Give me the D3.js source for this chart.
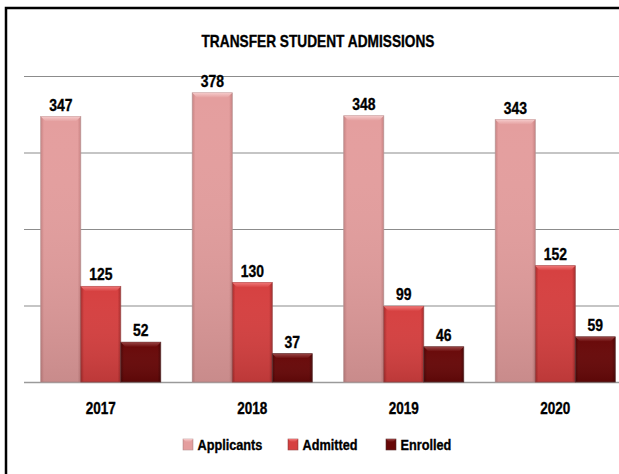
<!DOCTYPE html>
<html>
<head>
<meta charset="utf-8">
<script src="https://cdn.jsdelivr.net/npm/d3@7"></script>
<style>
  html, body { margin: 0; padding: 0; background: #fff; overflow: hidden; }
  svg { display: block; overflow: hidden; }
  text { font-family: "Liberation Sans", Arial, sans-serif; font-weight: bold; fill: #000; stroke: #000; stroke-width: 0.35px; }
</style>
</head>
<body>
<svg id="chart" width="619" height="474"></svg>
<script>
// ---- data ----
const years = ["2017", "2018", "2019", "2020"];
const seriesNames = ["Applicants", "Admitted", "Enrolled"];
const applicants = [347, 378, 348, 343];
const admitted = [125, 130, 99, 152];
const enrolled = [52, 37, 46, 59];
const yTicks = [0, 100, 200, 300, 400];
const chartTitle = "TRANSFER STUDENT ADMISSIONS";

const seriesValues = [applicants, admitted, enrolled];
const colors = {
  Applicants: { base: "#e49e9e", light: "#f5caca", dark: "#c98282", edge: "#b89494" },
  Admitted:   { base: "#d64040", light: "#f07878", dark: "#a82a2a", edge: "#9a4a4a" },
  Enrolled:   { base: "#680808", light: "#984444", dark: "#4a0303", edge: "#5a3030" }
};
const NARROW = 0.82; // horizontal squeeze to mimic a narrow face

const W = 619, H = 474;
const svg = d3.select("#chart");

// border (top and left edges visible in the crop)
svg.append("path")
  .attr("d", `M6,${H + 5}L6,8L${W + 5},8`)
  .attr("fill", "none").attr("stroke", "#000").attr("stroke-width", 2.5);

// scales
const x0 = d3.scaleBand().domain(years).range([25, 631])
  .paddingInner(0.208).paddingOuter(0.104);
const x1 = d3.scaleBand().domain(seriesNames).range([0, x0.bandwidth()]).padding(0);
const y = d3.scaleLinear().domain([0, 400]).range([382, 76]);

// gradients
const defs = svg.append("defs");
seriesNames.forEach((s, i) => {
  const c = colors[s];
  const gh = defs.append("linearGradient").attr("id", "gh" + i)
    .attr("x1", "0").attr("x2", "1").attr("y1", "0").attr("y2", "0");
  gh.append("stop").attr("offset", "0").attr("stop-color", c.dark);
  gh.append("stop").attr("offset", "0.08").attr("stop-color", c.base);
  gh.append("stop").attr("offset", "0.92").attr("stop-color", c.base);
  gh.append("stop").attr("offset", "1").attr("stop-color", c.dark);
  const gv = defs.append("linearGradient").attr("id", "gv" + i)
    .attr("x1", "0").attr("x2", "0").attr("y1", "0").attr("y2", "1");
  gv.append("stop").attr("offset", "0").attr("stop-color", "#fff").attr("stop-opacity", 0.0);
  gv.append("stop").attr("offset", "1").attr("stop-color", "#000").attr("stop-opacity", 0.12);
  const gt = defs.append("linearGradient").attr("id", "gt" + i)
    .attr("x1", "0").attr("x2", "0").attr("y1", "0").attr("y2", "1");
  gt.append("stop").attr("offset", "0").attr("stop-color", c.light);
  gt.append("stop").attr("offset", "1").attr("stop-color", c.base);
});

// gridlines
const grid = svg.append("g").attr("class", "grid")
  .attr("transform", "translate(24,0)")
  .call(d3.axisLeft(y).tickValues(yTicks).tickSize(-(W + 20)).tickFormat(""));
grid.select(".domain").remove();
grid.selectAll(".tick line")
  .attr("stroke", (d) => d === 0 ? "#9a9a9a" : "#8c8c8c")
  .attr("stroke-width", (d) => d === 0 ? 1.6 : 1.1);

// bars
const rows = years.map((yr, i) => ({ year: yr, vals: seriesNames.map((s, j) => ({ s, j, v: seriesValues[j][i] })) }));
const groups = svg.append("g").selectAll("g").data(rows).join("g")
  .attr("transform", d => `translate(${x0(d.year)},0)`);

const bars = groups.selectAll("g.bar").data(d => d.vals).join("g").attr("class", "bar");
bars.append("rect")
  .attr("x", d => x1(d.s)).attr("y", d => y(d.v))
  .attr("width", x1.bandwidth()).attr("height", d => y(0) - y(d.v))
  .attr("fill", d => `url(#gh${d.j})`)
  .attr("stroke", d => colors[d.s].edge).attr("stroke-width", 0.8);
bars.append("rect")
  .attr("x", d => x1(d.s)).attr("y", d => y(d.v))
  .attr("width", x1.bandwidth()).attr("height", d => y(0) - y(d.v))
  .attr("fill", d => `url(#gv${d.j})`);
// top bevel
bars.append("path")
  .attr("d", d => {
    const xl = x1(d.s), xr = xl + x1.bandwidth(), yt = y(d.v), b = 5;
    return `M${xl},${yt}L${xr},${yt}L${xr - b},${yt + b}L${xl + b},${yt + b}Z`;
  })
  .attr("fill", d => `url(#gt${d.j})`);

// value labels
bars.append("text")
  .attr("transform", d => `translate(${x1(d.s) + x1.bandwidth() / 2},${y(d.v) - 6}) scale(${NARROW},1)`)
  .attr("text-anchor", "middle")
  .style("font-size", "17px")
  .text(d => d.v);

// x axis labels
const xa = svg.append("g").attr("transform", `translate(0,${y(0)})`)
  .call(d3.axisBottom(x0).tickSize(0).tickPadding(20));
xa.select(".domain").remove();
xa.selectAll("text")
  .attr("y", 0).attr("dy", null)
  .attr("transform", `translate(0,32) scale(${NARROW},1)`)
  .attr("font-size", null).attr("font-family", null)
  .style("font-size", "16.5px")
  .attr("fill", "#000");

// title
svg.append("text")
  .attr("transform", `translate(318,47) scale(${NARROW},1)`)
  .attr("text-anchor", "middle")
  .style("font-size", "16.7px")
  .text(chartTitle);

// legend
const legendX = [183, 288, 386];
const legend = svg.append("g");
seriesNames.forEach((s, i) => {
  const g = legend.append("g").attr("transform", `translate(${legendX[i]},439)`);
  g.append("rect").attr("width", 10).attr("height", 11)
    .attr("fill", `url(#gh${i})`).attr("stroke", colors[s].edge).attr("stroke-width", 0.6);
  g.append("path").attr("d", "M0,0L10,0L7,3L3,3Z").attr("fill", `url(#gt${i})`);
  g.append("text").attr("transform", `translate(14.5,11.3) scale(${NARROW},1)`)
    .style("font-size", "15.5px").text(s);
});
</script>
</body>
</html>
